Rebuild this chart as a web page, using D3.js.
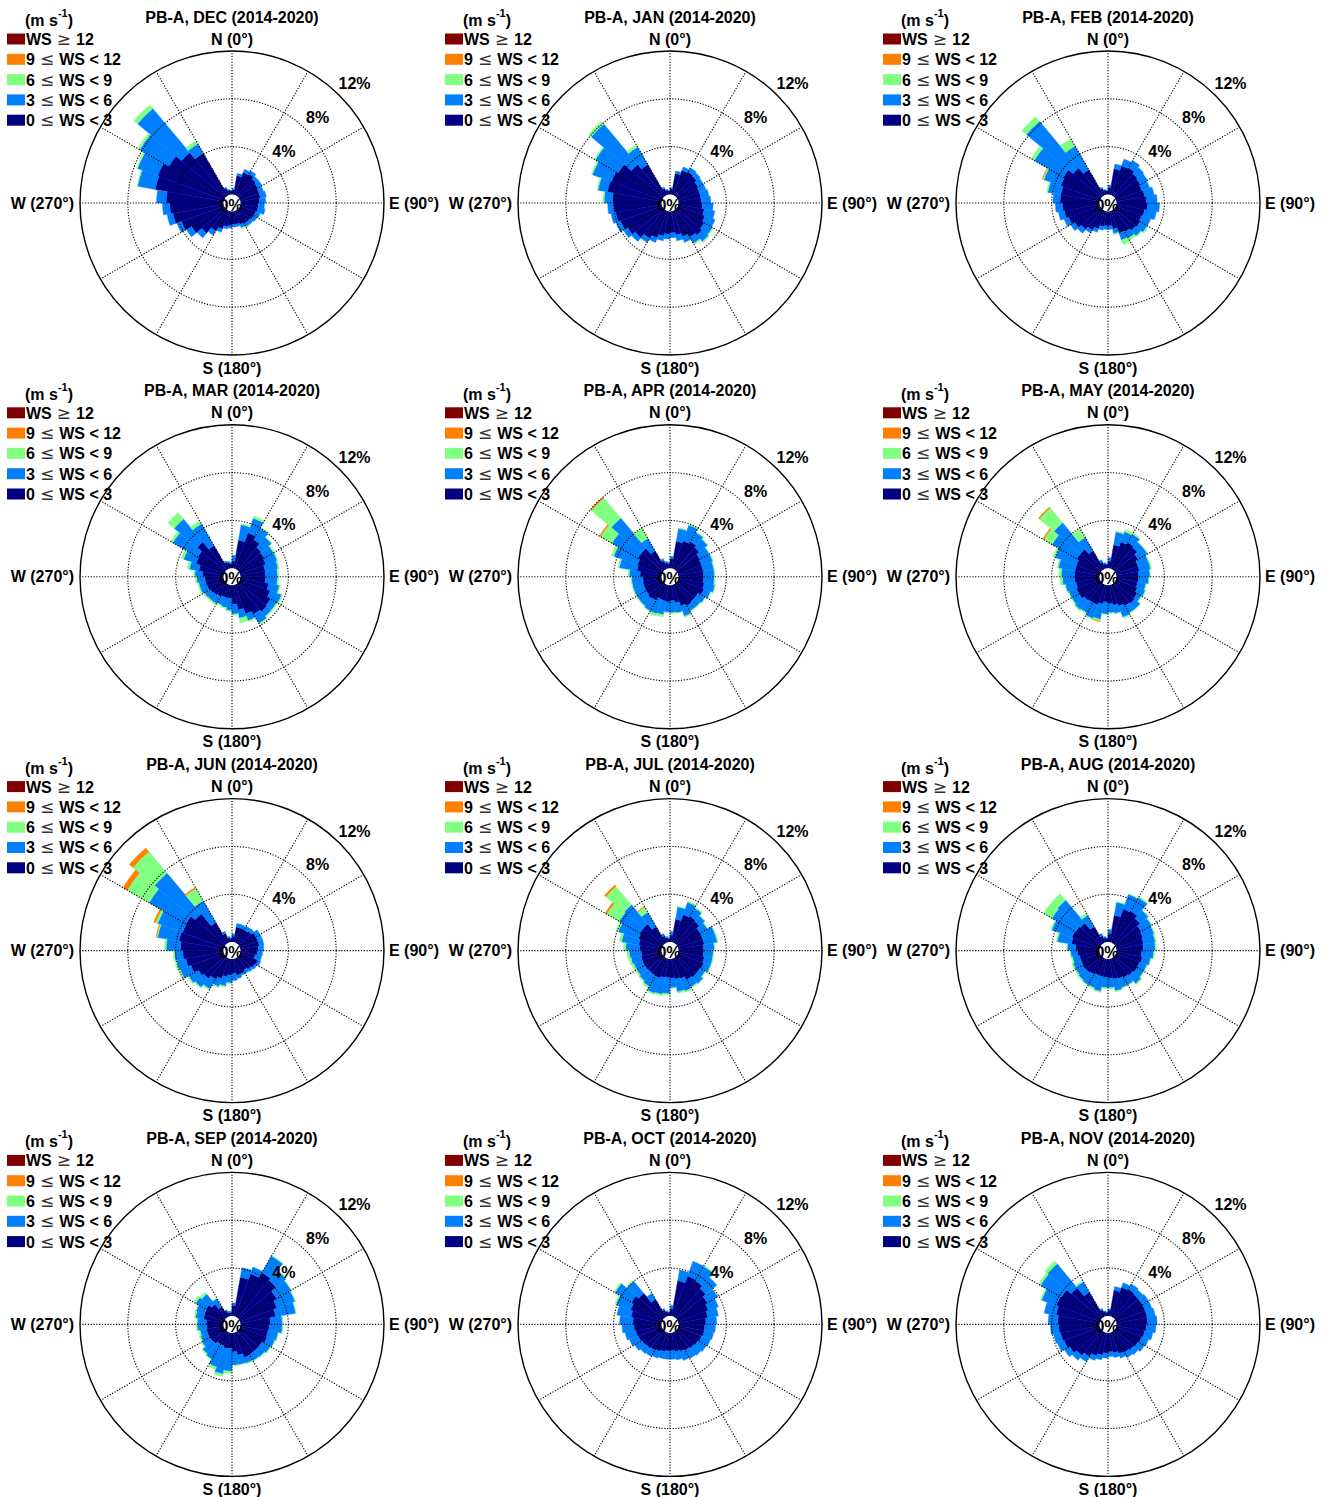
<!DOCTYPE html>
<html>
<head>
<meta charset="utf-8">
<script src="https://cdn.jsdelivr.net/npm/d3@7"></script>
<style>
  body { margin: 0; background: #fff; }
  svg { display: block; }
  text { font-family: "Liberation Sans", Arial, Helvetica, sans-serif; font-weight: bold; fill: #000; }
</style>
</head>
<body>
<svg id="chart" width="1330" height="1497"></svg>
<script>
// Monthly wind roses, station PB-A, 2014-2020.
// Each month: five speed classes (0-3, 3-6, 6-9, 9-12, >=12 m/s), 36 direction bins of 10 deg (0 = N, clockwise).
// Values are frequencies in % of all observations of that month.

const months = ["DEC", "JAN", "FEB", "MAR", "APR", "MAY", "JUN", "JUL", "AUG", "SEP", "OCT", "NOV"];
const directions = d3.range(0, 360, 10);
const binWidth = 10;
const classKeys = ["ws0_3", "ws3_6", "ws6_9", "ws9_12", "ws12"];
const classColors = ["#000080", "#0080ff", "#80ff80", "#ff8000", "#800000"];
const legendLabels = [["WS", "\u2265", "12"], ["9", "\u2264", "WS < 12"], ["6", "\u2264", "WS < 9"], ["3", "\u2264", "WS < 6"], ["0", "\u2264", "WS < 3"]];
const ringTicks = [4, 8, 12];
const spokeAngles = d3.range(0, 360, 30);

const DEC = [
  [0.4,1.6,2.0,2.1,1.9,1.8,1.7,1.7,1.6,1.5,1.5,1.4,1.4,1.3,1.3,1.2,1.1,1.1,1.2,1.3,1.6,2.0,2.6,3.2,3.8,4.3,4.5,4.8,5.8,5.9,5.4,4.8,4.1,0.6,0.4,0.3],
  [0.1,0.2,0.3,0.3,0.3,0.4,0.4,0.5,0.5,0.5,0.6,0.4,0.3,0.3,0.3,0.3,0.2,0.2,0.2,0.2,0.3,0.4,0.5,0.5,0.4,0.5,0.6,0.8,1.5,1.8,2.8,4.8,0.9,0.1,0.05,0.05],
  [0,0,0,0,0,0,0,0,0,0,0,0,0,0,0.1,0.1,0,0,0,0,0,0,0,0,0,0,0,0,0.05,0.1,0.2,0.4,0.3,0,0,0],
  [0,0,0,0,0,0,0,0,0,0,0,0,0,0,0,0,0,0,0,0,0,0,0,0,0,0,0,0,0,0,0,0,0,0,0,0],
  [0,0,0,0,0,0,0,0,0,0,0,0,0,0,0,0,0,0,0,0,0,0,0,0,0,0,0,0,0,0,0,0,0,0,0,0]
];
const JAN = [
  [0.5,1.8,2.2,2.3,2.2,2.0,1.9,1.9,1.9,2.0,2.2,2.4,2.6,2.8,2.6,2.3,2.0,1.8,1.9,2.1,2.4,2.7,3.1,3.4,3.7,3.9,4.0,4.1,4.6,4.5,4.3,3.5,3.0,0.6,0.4,0.3],
  [0.1,0.2,0.3,0.4,0.4,0.5,0.6,0.7,0.8,0.9,0.9,0.9,0.8,0.7,0.6,0.5,0.5,0.4,0.4,0.4,0.4,0.4,0.4,0.4,0.4,0.4,0.5,0.7,0.8,1.7,2.2,4.4,1.7,0.1,0.05,0.05],
  [0,0,0,0,0,0,0,0,0,0,0,0,0.1,0.1,0.1,0,0,0,0,0,0,0,0,0,0,0,0,0.1,0.1,0.1,0.1,0.3,0.2,0,0,0],
  [0,0,0,0,0,0,0,0,0,0,0,0,0,0,0,0,0,0,0,0,0,0,0,0,0,0,0,0,0,0,0,0,0,0,0,0],
  [0,0,0,0,0,0,0,0,0,0,0,0,0,0,0,0,0,0,0,0,0,0,0,0,0,0,0,0,0,0,0,0,0,0,0,0]
];
const FEB = [
  [0.6,2.2,2.6,2.7,2.5,2.4,2.3,2.4,2.5,2.6,2.4,2.3,2.4,2.3,2.1,2.0,1.5,1.2,1.2,1.3,1.6,1.9,2.2,2.5,2.8,3.0,3.1,3.3,3.3,3.5,3.6,3.1,2.5,0.6,0.4,0.3],
  [0.2,0.4,0.6,0.7,0.7,0.7,0.7,0.8,0.9,1.0,1.0,0.8,0.7,0.6,0.6,0.6,0.4,0.3,0.3,0.3,0.3,0.3,0.4,0.4,0.4,0.5,0.6,0.6,1.1,1.5,2.8,5.1,2.3,0.1,0.05,0.05],
  [0,0,0,0,0,0,0,0,0,0,0,0,0.1,0.1,0.2,0.4,0.1,0,0,0,0,0,0,0,0,0,0,0,0.1,0.1,0.3,0.5,0.7,0,0,0],
  [0,0,0,0,0,0,0,0,0,0,0,0,0,0,0,0,0,0,0,0,0,0,0,0,0,0,0,0,0,0.05,0,0,0,0,0,0],
  [0,0,0,0,0,0,0,0,0,0,0,0,0,0,0,0,0,0,0,0,0,0,0,0,0,0,0,0,0,0,0,0,0,0,0,0]
];
const MAR = [
  [0.6,2.4,3.2,2.9,2.5,2.4,2.3,2.1,2.1,2.1,2.4,2.7,3.0,3.1,2.9,2.6,2.1,1.6,1.1,1.1,1.1,1.2,1.3,1.4,1.5,1.55,1.55,1.75,2.1,2.5,2.6,3.1,2.3,0.6,0.5,0.4],
  [0.5,1.3,1.3,1.1,1.1,0.9,1.0,1.1,1.0,1.0,0.9,1.0,0.6,0.5,0.9,0.6,0.7,0.8,1.0,0.8,0.7,0.7,0.6,0.55,0.6,0.55,0.7,0.65,0.8,1.1,2.4,2.5,2.1,0.1,0.1,0.1],
  [0,0.1,0.2,0.1,0.1,0.1,0.1,0.1,0.1,0.1,0.1,0.1,0.1,0.1,0.1,0.1,0.4,0.1,0.1,0.1,0.1,0.1,0.1,0.1,0.1,0.1,0.1,0.1,0.2,0.2,0.2,0.7,0.3,0,0,0],
  [0,0,0,0,0,0,0,0,0,0,0,0,0,0,0,0,0,0,0,0,0,0,0,0,0,0,0,0,0,0,0,0,0,0,0,0],
  [0,0,0,0,0,0,0,0,0,0,0,0,0,0,0,0,0,0,0,0,0,0,0,0,0,0,0,0,0,0,0,0,0,0,0,0]
];
const APR = [
  [0.8,2.3,2.5,2.7,2.5,2.2,2.1,2.1,2.1,2.1,2.2,2.3,2.0,2.0,2.1,1.9,1.5,1.3,1.4,1.35,1.3,1.6,1.7,1.6,1.6,1.6,1.55,1.8,2.1,2.2,2.4,2.4,1.8,0.7,0.5,0.4],
  [0.2,1.1,1.4,0.9,0.9,0.9,1.0,0.9,0.9,0.9,0.9,0.6,0.7,0.6,0.5,0.9,0.85,1.0,0.85,1.15,1.3,1.0,0.8,0.9,0.9,0.9,0.95,0.9,1.5,2.1,2.5,3.3,1.2,0.2,0.1,0.1],
  [0,0.05,0.1,0.05,0.05,0.05,0.05,0.05,0.05,0.05,0.05,0.05,0.05,0.05,0.05,0.1,0.05,0.05,0.05,0.2,0.2,0.05,0.05,0.05,0.05,0.05,0.05,0.1,0.1,0.2,1.1,2.2,1.0,0,0,0],
  [0,0,0,0,0,0,0,0,0,0,0,0,0,0,0,0,0,0,0,0,0,0,0,0,0,0,0,0,0,0,0.1,0.1,0,0,0,0],
  [0,0,0,0,0,0,0,0,0,0,0,0,0,0,0,0,0,0,0,0,0,0,0,0,0,0,0,0,0,0,0,0,0,0,0,0]
];
const MAY = [
  [0.6,2.0,2.4,2.6,2.5,2.2,1.95,1.95,1.85,1.85,1.8,1.9,2.1,2.2,2.1,1.9,1.7,1.55,1.4,1.6,1.8,1.8,1.9,2.1,2.1,2.0,2.1,2.1,2.1,2.1,2.3,2.3,1.8,0.6,0.4,0.3],
  [0.3,1.1,0.9,0.8,0.6,0.9,0.95,0.95,0.95,0.85,0.7,0.7,0.4,0.6,0.7,1.0,0.7,0.75,1.0,1.3,1.2,1.0,1.0,0.7,0.7,0.9,1.0,1.1,1.4,1.9,2.4,2.9,1.3,0.2,0.1,0.1],
  [0,0.1,0.2,0.1,0.05,0.05,0.05,0.1,0.05,0.05,0.05,0.05,0.05,0.05,0.05,0.1,0.05,0.05,0.05,0.15,0.1,0.05,0.1,0.05,0.05,0.05,0.2,0.2,0.1,0.2,0.8,1.6,0.8,0,0,0],
  [0,0,0,0,0,0,0,0,0,0,0,0,0,0,0,0,0,0,0,0.05,0,0,0,0,0,0,0,0,0,0,0.1,0.1,0,0,0,0],
  [0,0,0,0,0,0,0,0,0,0,0,0,0,0,0,0,0,0,0,0,0,0,0,0,0,0,0,0,0,0,0,0,0,0,0,0]
];
const JUN = [
  [0.5,1.3,1.3,1.3,1.4,1.6,1.6,1.6,1.5,1.4,1.25,1.6,1.5,1.35,1.2,1.35,1.4,1.2,1.35,1.5,1.8,2.05,2.35,2.55,2.95,3.2,3.4,3.6,3.8,3.7,3.75,3.3,2.0,0.8,0.4,0.3],
  [0.2,0.3,0.3,0.35,0.3,0.4,0.4,0.4,0.45,0.45,0.55,0.25,0.2,0.25,0.3,0.15,0.25,0.6,0.65,0.8,0.7,0.95,0.95,0.95,0.95,0.8,0.7,1.2,1.8,2.2,3.55,4.45,2.1,0.2,0.1,0.1],
  [0,0,0,0,0,0,0,0,0,0,0,0,0,0,0,0,0,0,0.05,0.1,0.1,0.1,0.1,0.1,0.1,0.15,0.1,0.15,0.1,0.2,2.1,2.35,1.2,0,0,0],
  [0,0,0,0,0,0,0,0,0,0,0,0,0,0,0,0,0,0,0,0,0,0,0,0,0,0,0,0,0.05,0.15,0.4,0.4,0.1,0,0,0],
  [0,0,0,0,0,0,0,0,0,0,0,0,0,0,0,0,0,0,0,0,0,0,0,0,0,0,0,0,0,0,0,0,0,0,0,0]
];
const JUL = [
  [0.6,1.95,2.5,2.6,2.5,2.2,2.2,2.2,2.1,2.1,2.2,2.3,2.2,2.2,2.1,1.8,1.7,1.6,1.55,1.6,1.75,1.7,1.7,1.75,1.75,1.75,1.7,1.85,1.95,2.1,2.2,2.2,1.6,0.6,0.4,0.3],
  [0.3,1.05,1.1,0.8,0.6,0.7,1.1,1.1,0.9,0.8,0.7,0.6,0.5,0.7,0.7,1.1,1.1,0.8,1.35,1.4,1.35,1.05,0.9,0.75,0.75,0.85,1.0,1.15,1.45,1.8,2.0,2.1,1.4,0.2,0.1,0.1],
  [0,0.05,0.1,0.1,0.05,0.05,0.05,0.1,0.05,0.05,0.05,0.05,0.05,0.05,0.1,0.1,0.1,0.05,0.1,0.1,0.1,0.15,0.1,0.1,0.2,0.2,0.2,0.2,0.2,0.2,1.2,2.0,0.5,0,0,0],
  [0,0,0,0,0,0,0,0,0,0,0,0,0,0,0,0,0,0,0,0,0,0,0,0,0,0,0,0,0,0,0.15,0.15,0.05,0,0,0],
  [0,0,0,0,0,0,0,0,0,0,0,0,0,0,0,0,0,0,0,0,0,0,0,0,0,0,0,0,0,0,0,0,0,0,0,0]
];
const AUG = [
  [0.7,2.3,3.0,3.1,2.8,2.5,2.4,2.3,2.25,2.1,2.2,2.1,2.1,2.0,1.9,1.8,1.7,1.6,1.55,1.5,1.5,1.6,1.7,1.75,1.7,1.7,1.85,2.0,2.4,2.5,2.4,2.3,1.6,0.6,0.4,0.3],
  [0.35,1.1,1.3,1.3,0.9,1.0,1.0,1.0,1.0,1.0,0.7,0.65,0.65,0.9,0.7,0.8,1.0,0.8,0.85,1.25,1.1,1.0,0.8,0.65,0.7,0.6,0.55,0.7,1.2,1.8,2.3,2.5,1.1,0.2,0.1,0.1],
  [0,0.05,0.05,0.1,0.05,0.05,0.05,0.1,0.1,0.1,0.05,0.05,0.05,0.1,0.05,0.05,0.1,0.1,0.05,0.1,0.1,0.05,0.1,0.1,0.1,0.1,0.05,0.05,0.1,0.1,0.8,0.7,0.25,0,0,0],
  [0,0,0,0,0,0,0,0,0,0,0,0,0,0,0,0,0,0,0,0,0,0,0,0,0,0,0,0,0,0,0,0,0,0,0,0],
  [0,0,0,0,0,0,0,0,0,0,0,0,0,0,0,0,0,0,0,0,0,0,0,0,0,0,0,0,0,0,0,0,0,0,0,0]
];
const SEP = [
  [0.9,3.3,3.8,4.3,4.1,3.6,3.3,3.0,2.5,2.4,2.35,2.4,2.2,2.2,2.2,2.25,1.9,1.6,1.3,1.35,1.2,1.2,1.4,1.45,1.45,1.45,1.4,1.45,1.7,1.75,1.8,1.5,1.0,0.5,0.3,0.3],
  [0.2,0.8,0.6,1.6,1.1,1.4,1.6,1.7,1.0,1.1,0.85,0.7,0.8,0.65,0.6,0.5,0.8,1.1,1.9,2.15,1.9,1.45,1.1,0.75,0.65,0.55,0.8,0.75,0.7,0.75,1.0,1.1,0.8,0.1,0.1,0.1],
  [0,0,0,0.05,0.05,0.05,0.05,0.05,0.05,0.05,0.05,0.05,0.05,0.05,0.05,0.05,0.05,0.05,0.2,0.2,0.2,0.05,0.1,0.1,0.1,0.1,0.1,0.05,0.1,0.05,0.2,0.2,0.05,0,0,0],
  [0,0,0,0,0,0,0,0,0,0,0,0,0,0,0,0,0,0,0,0,0,0,0,0,0,0,0,0,0,0,0,0,0,0,0,0],
  [0,0,0,0,0,0,0,0,0,0,0,0,0,0,0,0,0,0,0,0,0,0,0,0,0,0,0,0,0,0,0,0,0,0,0,0]
];
const OCT = [
  [0.6,3.0,3.6,3.5,3.2,2.9,2.7,2.5,2.3,2.2,2.2,2.1,2.0,1.9,1.8,1.7,1.6,1.5,1.5,1.6,1.7,1.8,1.9,2.0,2.1,2.2,2.3,2.4,2.6,2.8,3.0,2.7,1.7,0.6,0.4,0.3],
  [0.3,0.9,1.3,1.4,1.2,1.0,0.9,0.9,0.9,0.9,0.8,0.8,0.8,0.8,0.8,0.8,0.7,0.7,0.7,0.6,0.6,0.6,0.6,0.7,0.8,0.9,1.0,1.1,1.2,1.3,1.6,1.3,0.6,0.1,0.05,0.05],
  [0,0,0,0.1,0,0,0,0,0,0,0,0,0,0,0,0,0,0,0,0,0,0,0,0,0,0,0,0,0,0.1,0.1,0.1,0,0,0,0],
  [0,0,0,0,0,0,0,0,0,0,0,0,0,0,0,0,0,0,0,0,0,0,0,0,0,0,0,0,0,0,0,0,0,0,0,0],
  [0,0,0,0,0,0,0,0,0,0,0,0,0,0,0,0,0,0,0,0,0,0,0,0,0,0,0,0,0,0,0,0,0,0,0,0]
];
const NOV = [
  [0.5,2.2,2.6,2.7,2.6,2.6,2.6,2.6,2.6,2.5,2.4,2.3,2.2,2.1,2.0,1.9,1.7,1.6,1.7,1.9,2.1,2.4,2.7,3.0,3.2,3.3,3.4,3.5,3.7,3.9,3.8,3.3,2.4,0.6,0.4,0.3],
  [0.1,0.3,0.4,0.5,0.5,0.6,0.6,0.7,0.8,0.8,0.7,0.6,0.6,0.5,0.5,0.4,0.4,0.4,0.4,0.4,0.4,0.5,0.5,0.5,0.6,0.6,0.7,0.8,1.0,1.3,2.0,2.6,1.0,0.1,0.05,0.05],
  [0,0,0,0,0,0,0,0,0,0,0,0,0,0,0,0,0,0,0,0,0,0,0,0,0,0,0,0,0,0.1,0.2,0.3,0.1,0,0,0],
  [0,0,0,0,0,0,0,0,0,0,0,0,0,0,0,0,0,0,0,0,0,0,0,0,0,0,0,0,0,0,0,0,0,0,0,0],
  [0,0,0,0,0,0,0,0,0,0,0,0,0,0,0,0,0,0,0,0,0,0,0,0,0,0,0,0,0,0,0,0,0,0,0,0]
];
const monthSeries = [DEC, JAN, FEB, MAR, APR, MAY, JUN, JUL, AUG, SEP, OCT, NOV];

// ---- layout ----
const colStep = 438, rowStep = 373.8;
const cx = 232, cy = 203;                       // rose centre inside a panel
const rScale = d3.scaleLinear().domain([0, 12]).range([8.5, 152]);
const rad = deg => deg * Math.PI / 180;
const arc = d3.arc();
const svg = d3.select("#chart");
const dots = "1.2,1.6";

months.forEach((month, k) => {
  const panel = svg.append("g")
    .attr("transform", `translate(${(k % 3) * colStep},${Math.floor(k / 3) * rowStep})`);
  const rose = panel.append("g").attr("transform", `translate(${cx},${cy})`);

  // stacked sectors
  const rows = directions.map((dir, i) => {
    const row = { dir };
    classKeys.forEach((key, j) => { row[key] = monthSeries[k][j][i]; });
    return row;
  });
  const layers = d3.stack().keys(classKeys)(rows);
  layers.forEach((layer, j) => {
    rose.append("g").selectAll("path")
      .data(layer.filter(d => d[1] > d[0]))
      .join("path")
      .attr("d", d => arc({
        innerRadius: rScale(d[0]),
        outerRadius: rScale(d[1]),
        startAngle: rad(d.data.dir),
        endAngle: rad(d.data.dir + binWidth)
      }))
      .attr("fill", classColors[j])
      .attr("stroke", classColors[j])
      .attr("stroke-width", 0.4);
  });

  // grid: dotted rings and spokes, solid outer ring
  const grid = rose.append("g").attr("fill", "none").attr("stroke", "#000");
  grid.selectAll("circle.ring")
    .data(ringTicks.filter(t => t < 12))
    .join("circle").attr("class", "ring")
    .attr("r", d => rScale(d))
    .attr("stroke-width", 1.1)
    .attr("stroke-dasharray", dots);
  grid.selectAll("line")
    .data(spokeAngles)
    .join("line")
    .attr("x1", a => rScale(0) * Math.sin(rad(a)))
    .attr("y1", a => -rScale(0) * Math.cos(rad(a)))
    .attr("x2", a => rScale(12) * Math.sin(rad(a)))
    .attr("y2", a => -rScale(12) * Math.cos(rad(a)))
    .attr("stroke-width", 1.1)
    .attr("stroke-dasharray", dots);
  grid.append("circle")
    .attr("r", rScale(12))
    .attr("stroke-width", 1.4);

  // centre hole
  rose.append("circle").attr("r", rScale(0)).attr("fill", "#fff");
  rose.append("text")
    .attr("x", -1).attr("y", 2)
    .attr("text-anchor", "middle").attr("dominant-baseline", "central")
    .attr("font-size", 16).text("0%");

  // ring labels along the 45 deg direction
  rose.selectAll("text.tick")
    .data(ringTicks)
    .join("text").attr("class", "tick")
    .attr("x", d => (rScale(d) + 17) * Math.sin(rad(45)) + (d === 12 ? 3 : 0))
    .attr("y", d => -(rScale(d) + 17) * Math.cos(rad(45)))
    .attr("text-anchor", "middle").attr("dominant-baseline", "central")
    .attr("font-size", 16)
    .text(d => d + "%");

  // compass labels
  const R = rScale(12);
  rose.append("text").attr("x", 0).attr("y", -R - 12)
    .attr("text-anchor", "middle").attr("dominant-baseline", "central")
    .attr("font-size", 16).text("N (0\u00b0)");
  rose.append("text").attr("x", 0).attr("y", R + 13)
    .attr("text-anchor", "middle").attr("dominant-baseline", "central")
    .attr("font-size", 16).text("S (180\u00b0)");
  rose.append("text").attr("x", R + 5).attr("y", 0)
    .attr("text-anchor", "start").attr("dominant-baseline", "central")
    .attr("font-size", 16).text("E (90\u00b0)");
  rose.append("text").attr("x", -R - 6).attr("y", 0)
    .attr("text-anchor", "end").attr("dominant-baseline", "central")
    .attr("font-size", 16).text("W (270\u00b0)");

  // title
  panel.append("text")
    .attr("x", cx).attr("y", 17)
    .attr("text-anchor", "middle").attr("dominant-baseline", "central")
    .attr("font-size", 16)
    .text(`PB-A, ${month} (2014-2020)`);

  // legend
  const unit = panel.append("text").attr("x", 25).attr("y", 20)
    .attr("dominant-baseline", "central").attr("font-size", 16);
  unit.append("tspan").text("(m s");
  unit.append("tspan").attr("font-size", 11).attr("dy", -7).text("-1");
  unit.append("tspan").attr("dy", 7).text(")");

  const legendRows = classColors.slice().reverse();
  legendRows.forEach((color, i) => {
    const y = 39 + i * 20.3;
    panel.append("rect")
      .attr("x", 7).attr("y", y - 5.5)
      .attr("width", 18).attr("height", 11)
      .attr("fill", color);
    const t = panel.append("text").attr("x", 26).attr("y", y)
      .attr("dominant-baseline", "central").attr("font-size", 16);
    const parts = legendLabels[i];
    t.append("tspan").text(parts[0]);
    t.append("tspan").attr("dx", 5).attr("font-weight", "normal")
      .attr("font-family", "DejaVu Sans").attr("font-size", 17)
      .attr("fill", "#333").text(parts[1]);
    t.append("tspan").attr("dx", 5).text(parts[2]);
  });
});
</script>
</body>
</html>
